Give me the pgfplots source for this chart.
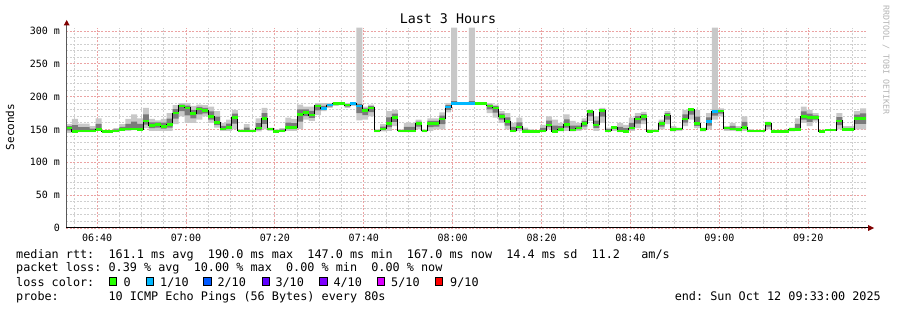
\documentclass[border=0pt]{standalone}
\usepackage{fontspec}
\setmainfont{DejaVu Sans Mono}
\usepackage{pgfplots}
\pgfplotsset{compat=1.18}
\usepackage{pgfplotstable}
\usepgfplotslibrary{fillbetween}

\definecolor{lossA}{HTML}{26FF00}
\definecolor{lossB}{HTML}{00B8FF}
\definecolor{lossC}{HTML}{0059FF}
\definecolor{lossD}{HTML}{5E00FF}
\definecolor{lossE}{HTML}{7E00FF}
\definecolor{lossF}{HTML}{DD00FF}
\definecolor{lossG}{HTML}{FF0000}
\definecolor{smokeL}{HTML}{C8C8C8}
\definecolor{smokeM}{HTML}{7A7A7A}
\definecolor{mgrid}{HTML}{EBA3A3}
\definecolor{ngrid}{HTML}{CFCFCF}
\definecolor{arrowred}{HTML}{800000}
\definecolor{wmark}{HTML}{B4B4B4}

\pgfplotstableread{
x lo m1 med m2 hi
0 145 148.5 152 155 158
1 146 146.5 147 156.5 166
2 146 147 148 153.5 159
3 146 147 148 153.5 159
4 146 147 148 151.5 155
5 148 149 150 158.5 167
6 146 146.5 147 148 149
7 146 146.5 147 148 149
8 146 147 148 150 152
9 148 149 150 154 158
10 148 149.5 151 158.5 166
11 149 150 151 162 173
12 148 149 150 158.5 167
13 152 157.5 163 173 183
14 148 152 156 161 166
15 148 153 158 161 164
16 148 151.5 155 160.5 166
17 148 153 158 166.5 175
18 158 166.5 175 181 187
19 170 178 186 188 190
20 160 171.5 183 186.5 190
21 160 167 174 180 186
22 165 173 181 184.5 188
23 170 174.5 179 183 187
24 160 165 170 177.5 185
25 153 157 161 169.5 178
26 148 149.5 151 155.5 160
27 148 150.5 153 159 165
28 150 159 168 174 180
29 146 147 148 149 150
30 146 147 148 153 158
31 146 147 148 149 150
32 147 149.5 152 159.5 167
33 150 158.5 167 175 183
34 148 149.5 151 152 153
35 146 146.5 147 148.5 150
36 146 147 148 150 152
37 148 150.5 153 160.5 168
38 148 150.5 153 159.5 166
39 151 162 173 180.5 188
40 165 170.5 176 180.5 185
41 163 167.5 172 178.5 185
42 172 179 186 188 190
43 178 180 182 186 190
44 183 185 187 188.5 190
45 186 188 190 190.5 191
46 187 188.5 190 190.5 191
47 183 185 187 188.5 190
48 186 188 190 190.5 191
49 164 175 186 189 305
50 165 172 179 182 185
51 170 176.5 183 185.5 188
52 146 147 148 149 150
53 147 149 151 154.5 158
54 148 153.5 159 168.5 178
55 155 161.5 168 174 180
56 146 147 148 149 150
57 146 147 148 154 160
58 146 147 148 154 160
59 150 154.5 159 162 165
60 146 147 148 149 150
61 148 153.5 159 163 167
62 150 154.5 159 163 167
63 150 158 166 171 176
64 176 180 184 187 190
65 188 189 190 193 305
66 189 189.5 190 190.5 191
67 189 189.5 190 190.5 191
68 189 189.5 190 193 305
69 189 189.5 190 190.5 191
70 189 189.5 190 190.5 191
71 175 180.5 186 188 190
72 168 175.5 183 185.5 188
73 160 165 170 174 178
74 150 156 162 168.5 175
75 146 147 148 154 160
76 148 151 154 161 168
77 146 146.5 147 150 153
78 146 146.5 147 148.5 150
79 146 146.5 147 148 149
80 146 147 148 152.5 157
81 150 153.5 157 163.5 170
82 146 146.5 147 156 165
83 147 148.5 150 155 160
84 148 153 158 165.5 173
85 147 148 149 156 163
86 148 150 152 156 160
87 150 154.5 159 163 167
88 163 170 177 178.5 180
89 148 152.5 157 163.5 170
90 160 169.5 179 181 183
91 146 147 148 150.5 153
92 148 150.5 153 154 155
93 146 147 148 154 160
94 146 146.5 147 152 157
95 148 150 152 160 168
96 152 159 166 170.5 175
97 158 164 170 173.5 177
98 146 146.5 147 148.5 150
99 146 147 148 149 150
100 150 154.5 159 162 165
101 158 165 172 175 178
102 147 148.5 150 152.5 155
103 148 149.5 151 152 153
104 155 160.5 166 173 180
105 165 172.5 180 181 182
106 152 155.5 159 169.5 180
107 147 148.5 150 151.5 153
108 150 156 162 168.5 175
109 165 171 177 180 305
110 170 174 178 180 182
111 148 150 152 153.5 155
112 148 149.5 151 155.5 160
113 147 148.5 150 152.5 155
114 148 150.5 153 161.5 170
115 146 147 148 149 150
116 146 147 148 148.5 149
117 146 147 148 148.5 149
118 150 154.5 159 160.5 162
119 146 146.5 147 147.5 148
120 146 146.5 147 147.5 148
121 146 146.5 147 147.5 148
122 147 148.5 150 151.5 153
123 148 149 150 158.5 167
124 160 165 170 177.5 185
125 155 161.5 168 174 180
126 162 165 168 171.5 175
127 146 146.5 147 148 149
128 148 148.5 149 149.5 150
129 148 148.5 149 149.5 150
130 150 156.5 163 169 175
131 148 149 150 152.5 155
132 148 149 150 152.5 155
133 150 158.5 167 172.5 178
134 150 158.5 167 174.5 182
135 150 158.5 167 174.5 182
}\smoke

\newcommand\lt{\fontsize{11.8}{14}\selectfont}

\begin{document}
\begin{tikzpicture}
\begin{axis}[
  at={(66pt,82pt)}, anchor=south west,
  scale only axis, width=800pt, height=200.3pt,
  xmin=0, xmax=135, ymin=0, ymax=305,
  axis line style={draw=none},
  tick style={draw=none},
  xtick={5.25,20.25,35.25,50.25,65.25,80.25,95.25,110.25,125.25},
  xticklabels={06:40,07:00,07:20,07:40,08:00,08:20,08:40,09:00,09:20},
  minor xtick={1.5,9,12.75,16.5,24,27.75,31.5,39,42.75,46.5,54,57.75,61.5,69,72.75,76.5,84,87.75,91.5,99,102.75,106.5,114,117.75,121.5,129,132.75},
  ytick={0,50,100,150,200,250,300},
  yticklabels={0,50~m,100~m,150~m,200~m,250~m,300~m},
  minor ytick={10,20,30,40,60,70,80,90,110,120,130,140,160,170,180,190,210,220,230,240,260,270,280,290},
  ticklabel style={font=\fontsize{10}{12}\selectfont},
  yticklabel style={xshift=-2.5pt},
  xticklabel style={yshift=-3pt},
  grid=both,
  major grid style={color=mgrid, line width=0.9pt, dash pattern=on 2pt off 1.5pt},
  minor grid style={color=ngrid, line width=0.9pt, dash pattern=on 2pt off 1.5pt},
]
\addplot[name path=hi, draw=none, const plot mark left] table[x=x,y=hi]{\smoke};
\addplot[name path=lo, draw=none, const plot mark left] table[x=x,y=lo]{\smoke};
\addplot[name path=mtwo, draw=none, const plot mark left] table[x=x,y=m2]{\smoke};
\addplot[name path=mone, draw=none, const plot mark left] table[x=x,y=m1]{\smoke};
\addplot[fill=smokeL, draw=none] fill between[of=hi and lo];
\addplot[fill=smokeM, draw=none] fill between[of=mtwo and mone];
\addplot[black, line width=1pt, const plot mark left] table[x=x,y=med]{\smoke};
\addplot[lossA, line width=2.6pt, jump mark left] table[x=x,y=med]{\smoke};
\addplot[lossB, line width=2.6pt, jump mark left] coordinates {(43,182)(44,187)(45,187)};
\addplot[lossB, line width=2.6pt, jump mark left] coordinates {(48,190)(49,186)(50,186)};
\addplot[lossB, line width=2.6pt, jump mark left] coordinates {(64,184)(65,190)(69,190)};
\addplot[lossB, line width=2.6pt, jump mark left] coordinates {(108,162)(109,177)(110,177)};
\end{axis}
\begin{scope}[x=1pt,y=1pt]
% axis lines and arrows
\draw[line width=1pt, color=black!65] (66.7,82) -- (66.7,286);
\draw[line width=1pt, color=black] (66,82) -- (869,82);
\fill[arrowred] (63.7,284.5) -- (69.7,284.5) -- (66.7,290) -- cycle;
\fill[arrowred] (868,79) -- (868,85) -- (874,82) -- cycle;
% title and labels
\node[font=\fontsize{13.3}{15}\selectfont] at (448,291) {Last 3 Hours};
\node[font=\fontsize{11}{13}\selectfont, rotate=90] at (10,183) {Seconds};
\node[font=\fontsize{8.3}{10}\selectfont, text=wmark, rotate=-90] at (886,250) {RRDTOOL / TOBI OETIKER};
% legend text
\node[anchor=base west, inner sep=0pt, font=\lt] at (16,51.5) {median~rtt:~~161.1~ms~avg~~190.0~ms~max~~147.0~ms~min~~167.0~ms~now~~14.4~ms~sd~~11.2~~~am/s};
\node[anchor=base west, inner sep=0pt, font=\lt] at (16,38) {packet~loss:~0.39~\%~avg~~10.00~\%~max~~0.00~\%~min~~0.00~\%~now};
\node[anchor=base west, inner sep=0pt, font=\lt] at (16,23.5) {loss~color:};
\node[anchor=base west, inner sep=0pt, font=\lt] at (16,9.5) {probe:~~~~~~~10~ICMP~Echo~Pings~(56~Bytes)~every~80s};
\node[anchor=base east, inner sep=0pt, font=\lt] at (881,9.5) {end:~Sun~Oct~12~09:33:00~2025};
% loss colour boxes
\draw[fill=lossA, line width=0.8pt] (109,24.3) rectangle +(7.3,8);
\node[anchor=base west, inner sep=0pt, font=\lt] at (123.3,23.5) {0};
\draw[fill=lossB, line width=0.8pt] (146.3,24.3) rectangle +(7.3,8);
\node[anchor=base west, inner sep=0pt, font=\lt] at (160,23.5) {1/10};
\draw[fill=lossC, line width=0.8pt] (203.6,24.3) rectangle +(7.3,8);
\node[anchor=base west, inner sep=0pt, font=\lt] at (217.3,23.5) {2/10};
\draw[fill=lossD, line width=0.8pt] (262,24.3) rectangle +(7.3,8);
\node[anchor=base west, inner sep=0pt, font=\lt] at (275.3,23.5) {3/10};
\draw[fill=lossE, line width=0.8pt] (319.6,24.3) rectangle +(7.3,8);
\node[anchor=base west, inner sep=0pt, font=\lt] at (333.3,23.5) {4/10};
\draw[fill=lossF, line width=0.8pt] (377,24.3) rectangle +(7.3,8);
\node[anchor=base west, inner sep=0pt, font=\lt] at (391,23.5) {5/10};
\draw[fill=lossG, line width=0.8pt] (435.3,24.3) rectangle +(7.3,8);
\node[anchor=base west, inner sep=0pt, font=\lt] at (450,23.5) {9/10};
\path (0,0) rectangle (897,310);
\end{scope}
\end{tikzpicture}
\end{document}
